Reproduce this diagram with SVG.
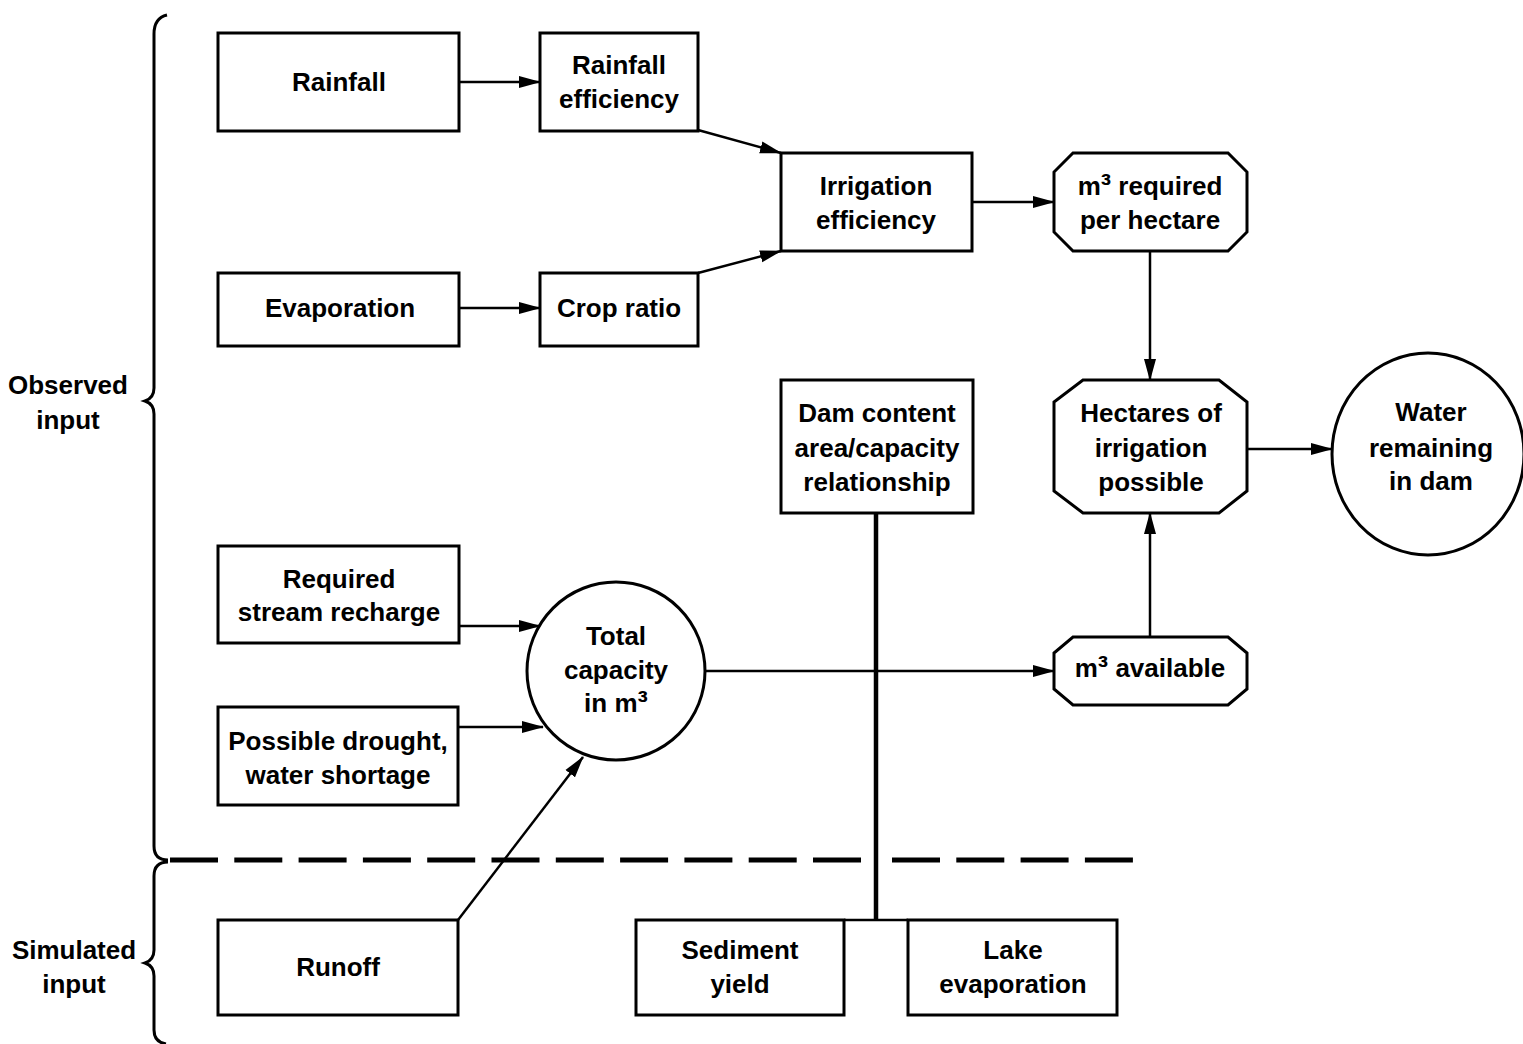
<svg xmlns="http://www.w3.org/2000/svg" width="1523" height="1044" viewBox="0 0 1523 1044">
<defs>
<marker id="ah" markerWidth="22" markerHeight="13" refX="21" refY="6.5" orient="auto" markerUnits="userSpaceOnUse">
<path d="M0,0.5 L22,6.5 L0,12.5 Z" fill="#000"/>
</marker>
<style>
.box{fill:#fff;stroke:#000;stroke-width:3}
.t{font-family:"Liberation Sans",Arial,sans-serif;font-weight:bold;font-size:26px;fill:#000;text-anchor:middle}
.sup{font-size:31px}
.c{fill:none;stroke:#000;stroke-width:2.5}
.br{fill:none;stroke:#000;stroke-width:3}
</style>
</defs>
<rect width="1523" height="1044" fill="#fff"/>

<g id="labels">
<path class="br" d="M167,15 Q154,18 154,34 L154,388 Q154,398 145,401 Q154,404 154,414 L154,846 Q154,860 168,860"/>
<path class="br" d="M168,862 Q154,862 154,876 L154,950 Q154,960 145,963 Q154,966 154,976 L154,1030 Q154,1042 166,1044"/>
<text class="t" x="68" y="394">Observed</text>
<text class="t" x="68" y="429">input</text>
<text class="t" x="74" y="959">Simulated</text>
<text class="t" x="74" y="993">input</text>
</g>

<g id="connectors">
<line x1="170" y1="860" x2="861" y2="860" stroke="#000" stroke-width="5" stroke-dasharray="48 16.3"/>
<line x1="892" y1="860" x2="1133" y2="860" stroke="#000" stroke-width="5" stroke-dasharray="48 16.3"/>
<line class="c" x1="459" y1="82" x2="540" y2="82" marker-end="url(#ah)"/>
<line class="c" x1="698" y1="130" x2="781" y2="153" marker-end="url(#ah)"/>
<line class="c" x1="459" y1="308" x2="540" y2="308" marker-end="url(#ah)"/>
<line class="c" x1="698" y1="273" x2="781" y2="251" marker-end="url(#ah)"/>
<line class="c" x1="972" y1="202" x2="1054" y2="202" marker-end="url(#ah)"/>
<line class="c" x1="1150" y1="251" x2="1150" y2="380" marker-end="url(#ah)"/>
<line class="c" x1="1247" y1="449" x2="1332" y2="449" marker-end="url(#ah)"/>
<line class="c" x1="1150" y1="637" x2="1150" y2="513" marker-end="url(#ah)"/>
<line class="c" x1="459" y1="626" x2="540" y2="626" marker-end="url(#ah)"/>
<line class="c" x1="458" y1="727" x2="543" y2="727" marker-end="url(#ah)"/>
<line class="c" x1="458" y1="920" x2="583" y2="757" marker-end="url(#ah)"/>
<line class="c" x1="706" y1="671" x2="1054" y2="671" marker-end="url(#ah)"/>
<line x1="876" y1="513" x2="876" y2="920" stroke="#000" stroke-width="4.5"/>
<line x1="844" y1="920" x2="908" y2="920" stroke="#000" stroke-width="2.5"/>
</g>

<g id="rainfall"><rect class="box" x="218" y="33" width="241" height="98"/><text class="t" x="339" y="91">Rainfall</text></g>
<g id="rainfall-efficiency"><rect class="box" x="540" y="33" width="158" height="98"/><text class="t" x="619" y="74">Rainfall</text><text class="t" x="619" y="108">efficiency</text></g>
<g id="irrigation-efficiency"><rect class="box" x="781" y="153" width="191" height="98"/><text class="t" x="876" y="195">Irrigation</text><text class="t" x="876" y="229">efficiency</text></g>
<g id="m3-required"><path class="box" d="M1073,153 L1228,153 L1247,172 L1247,232 L1228,251 L1073,251 L1054,232 L1054,172 Z"/><text class="t" x="1150" y="195">m<tspan class="sup">³</tspan> required</text><text class="t" x="1150" y="229">per hectare</text></g>
<g id="evaporation"><rect class="box" x="218" y="273" width="241" height="73"/><text class="t" x="340" y="317">Evaporation</text></g>
<g id="crop-ratio"><rect class="box" x="540" y="273" width="158" height="73"/><text class="t" x="619" y="317">Crop ratio</text></g>
<g id="dam-content"><rect class="box" x="781" y="380" width="192" height="133"/><text class="t" x="877" y="422">Dam content</text><text class="t" x="877" y="457">area/capacity</text><text class="t" x="877" y="491">relationship</text></g>
<g id="hectares"><path class="box" d="M1083,380 L1219,380 L1247,402 L1247,491 L1219,513 L1083,513 L1054,491 L1054,402 Z"/><text class="t" x="1151" y="422">Hectares of</text><text class="t" x="1151" y="457">irrigation</text><text class="t" x="1151" y="491">possible</text></g>
<g id="water-remaining"><ellipse class="box" cx="1428" cy="454" rx="96" ry="101"/><text class="t" x="1431" y="421">Water</text><text class="t" x="1431" y="457">remaining</text><text class="t" x="1431" y="490">in dam</text></g>
<g id="stream-recharge"><rect class="box" x="218" y="546" width="241" height="97"/><text class="t" x="339" y="588">Required</text><text class="t" x="339" y="621">stream recharge</text></g>
<g id="total-capacity"><circle class="box" cx="616" cy="671" r="89"/><text class="t" x="616" y="645">Total</text><text class="t" x="616" y="679">capacity</text><text class="t" x="616" y="712">in m<tspan class="sup">³</tspan></text></g>
<g id="m3-available"><path class="box" d="M1073,637 L1228,637 L1247,653 L1247,689 L1228,705 L1073,705 L1054,689 L1054,653 Z"/><text class="t" x="1150" y="677">m<tspan class="sup">³</tspan> available</text></g>
<g id="drought"><rect class="box" x="218" y="707" width="240" height="98"/><text class="t" x="338" y="750">Possible drought,</text><text class="t" x="338" y="784">water shortage</text></g>
<g id="runoff"><rect class="box" x="218" y="920" width="240" height="95"/><text class="t" x="338" y="976">Runoff</text></g>
<g id="sediment"><rect class="box" x="636" y="920" width="208" height="95"/><text class="t" x="740" y="959">Sediment</text><text class="t" x="740" y="993">yield</text></g>
<g id="lake-evaporation"><rect class="box" x="908" y="920" width="209" height="95"/><text class="t" x="1013" y="959">Lake</text><text class="t" x="1013" y="993">evaporation</text></g>
</svg>
